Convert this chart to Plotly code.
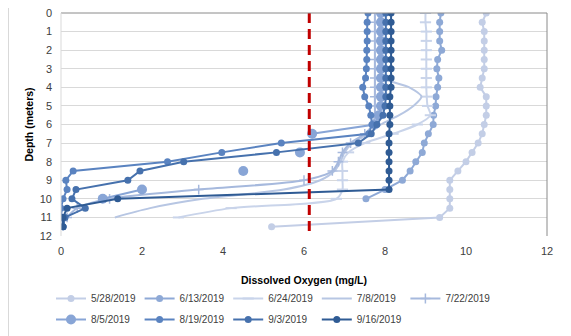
import plotly.graph_objects as go

# ---- data (depth in meters, dissolved oxygen in mg/L) ----
depth_5_28 = [0, 0.5, 1, 1.5, 2, 2.5, 3, 3.5, 4, 4.5, 5, 5.5, 6, 6.5, 7, 7.5, 8, 8.5, 9, 9.5, 10, 10.5, 11, 11.5]
do_5_28 = [10.5, 10.4, 10.45, 10.45, 10.45, 10.45, 10.45, 10.4, 10.35, 10.5, 10.5, 10.5, 10.45, 10.4, 10.3, 10.15, 10.0, 9.8, 9.6, 9.6, 9.6, 9.6, 9.35, 5.2]

depth_6_13 = [0, 0.5, 1, 1.5, 2, 2.5, 3, 3.5, 4, 4.5, 5, 5.5, 6, 6.5, 7, 7.5, 8, 8.5, 9, 9.5, 10]
do_6_13 = [9.38, 9.35, 9.35, 9.35, 9.4, 9.3, 9.28, 9.33, 9.3, 9.26, 9.25, 9.2, 9.19, 9.07, 8.97, 8.92, 8.76, 8.62, 8.43, 8.0, 7.53]

depth_6_24 = [0, 0.5, 1, 1.5, 2, 2.5, 3, 3.5, 4, 4.5, 5, 5.5, 6, 6.5, 7, 7.5, 8, 8.5, 9, 9.5, 10, 10.5, 11]
do_6_24 = [9.0, 9.0, 9.02, 9.02, 9.02, 9.02, 9.02, 9.02, 9.02, 9.03, 9.05, 9.12, 8.8, 8.2, 7.5, 7.1, 6.95, 6.95, 6.95, 6.95, 6.8, 4.2, 2.9]

depth_7_8 = [0, 0.5, 1, 1.5, 2, 2.5, 3, 3.5, 4, 4.5, 5, 5.5, 6, 6.5, 7, 7.5, 8, 8.5, 9, 9.5, 10, 10.5, 11]
do_7_8 = [7.85, 7.85, 7.85, 7.85, 7.85, 7.85, 7.85, 7.95, 8.6, 8.9, 8.7, 8.35, 7.9, 7.6, 7.2, 7.0, 6.9, 6.75, 6.4, 5.5, 3.5, 2.2, 1.33]

depth_7_22 = [0, 0.5, 1, 1.5, 2, 2.5, 3, 3.5, 4, 4.5, 5, 5.5, 6, 6.5, 7, 7.5, 8, 8.5, 9, 9.5, 10, 10.5, 11]
do_7_22 = [7.75, 7.75, 7.75, 7.75, 7.75, 7.75, 7.75, 7.75, 7.75, 7.75, 7.75, 7.75, 7.7, 7.5, 7.15, 6.95, 6.85, 6.7, 6.0, 3.4, 1.2, 0.4, 0.15]

depth_8_5 = [0, 0.5, 1, 1.5, 2, 2.5, 3, 3.5, 4, 4.5, 5, 5.5, 6, 6.5, 7, 7.5, 8, 8.5, 9, 9.5, 10]
do_8_5 = [7.9, 7.9, 7.9, 7.9, 7.9, 7.9, 7.9, 7.9, 7.9, 7.9, 7.9, 7.85, 7.75, 6.2, None, 5.9, None, 4.5, None, 2.0, 1.03]

depth_8_19 = [0, 0.5, 1, 1.5, 2, 2.5, 3, 3.5, 4, 4.5, 5, 5.5, 6, 6.5, 7, 7.5, 8, 8.5, 9, 9.5, 10, 10.5, 11, 11.5]
do_8_19 = [7.58, 7.56, 7.56, 7.56, 7.55, 7.55, 7.54, 7.52, 7.45, 7.5, 7.6, 7.65, 7.68, 7.6, 5.44, 3.97, 2.63, 0.3, 0.12, 0.15, 0.05, 0.0, 0.02, 0.05]

depth_9_3 = [0, 0.5, 1, 1.5, 2, 2.5, 3, 3.5, 4, 4.5, 5, 5.5, 6, 6.5, 7, 7.5, 8, 8.5, 9, 9.5, 10, 10.5, 11, 11.5]
do_9_3 = [8.02, 8.02, 8.02, 8.02, 8.02, 8.02, 8.02, 8.02, 8.02, 8.02, 8.0, 7.95, 7.8, 7.66, 7.34, 5.32, 3.03, 1.95, 1.65, 0.37, 0.27, 0.6, 0.1, 0.05]

depth_9_16 = [0, 0.5, 1, 1.5, 2, 2.5, 3, 3.5, 4, 4.5, 5, 5.5, 6, 6.5, 7, 7.5, 8, 8.5, 9, 9.5, 10, 10.5, 11, 11.5]
do_9_16 = [8.15, 8.15, 8.15, 8.15, 8.15, 8.15, 8.15, 8.15, 8.15, 8.12, 8.12, 8.12, 8.12, 8.1, 8.1, 8.1, 8.1, 8.1, 8.1, 8.1, 1.4, 0.15, 0.05, 0.05]

threshold_do = [6.13, 6.13]
threshold_depth = [0, 12]

x_ticks = [0, 2, 4, 6, 8, 10, 12]
y_ticks = [0, 1, 2, 3, 4, 5, 6, 7, 8, 9, 10, 11, 12]

FONT = "Liberation Sans, Arial, sans-serif"

series = [
    ("5/28/2019", do_5_28, depth_5_28, "#c3cee6", dict(symbol="circle", size=7), "linear", "legend"),
    ("6/13/2019", do_6_13, depth_6_13, "#8ea9d6", dict(symbol="circle", size=7), "linear", "legend"),
    ("6/24/2019", do_6_24, depth_6_24, "#c9d4ea", dict(symbol="line-ew", size=8, line=dict(width=2, color="#c9d4ea")), "spline", "legend"),
    ("7/8/2019", do_7_8, depth_7_8, "#b7c6e3", None, "spline", "legend"),
    ("7/22/2019", do_7_22, depth_7_22, "#a6b9dd", dict(symbol="cross-thin", size=7, line=dict(width=1.5, color="#a6b9dd")), "spline", "legend"),
    ("8/5/2019", do_8_5, depth_8_5, "#88a5d6", dict(symbol="circle", size=10), "linear", "legend2"),
    ("8/19/2019", do_8_19, depth_8_19, "#5a83c0", dict(symbol="circle", size=7), "linear", "legend2"),
    ("9/3/2019", do_9_3, depth_9_3, "#4671ad", dict(symbol="circle", size=7), "linear", "legend2"),
    ("9/16/2019", do_9_16, depth_9_16, "#2f5b94", dict(symbol="circle", size=7), "linear", "legend2"),
]

fig = go.Figure()
for name, xs, ys, color, marker, shape, leg in series:
    kw = {}
    if marker is None:
        mode = "lines"
    else:
        mode = "lines+markers"
        m = dict(marker)
        m.setdefault("color", color)
        kw["marker"] = m
    fig.add_trace(go.Scatter(
        x=xs, y=ys, name=name, mode=mode, legend=leg,
        line=dict(color=color, width=2, shape=shape, smoothing=0.8),
        connectgaps=False, **kw))

fig.add_trace(go.Scatter(
    x=threshold_do, y=threshold_depth, mode="lines", showlegend=False,
    line=dict(color="#c00000", width=3, dash="10px,6px"), hoverinfo="skip"))

# page body adds an 8px offset; target screen geometry of the plot area
OFF = 8
PL, PR, PT, PB = 61, 547, 13, 236   # plot area in screen px
W, H = 571 - OFF, 336 - OFF
L, T = PL - OFF, PT - OFF
R = W - (PR - OFF)
B = H - (PB - OFF)
pw, ph = PR - PL, PB - PT

def px_x(p):
    return (p - PL) / pw

def px_y(p):
    return (PB - p) / ph

shapes = [
    dict(type="line", xref="paper", yref="paper", x0=0, x1=1, y0=1, y1=1,
         line=dict(color="#8a8a8a", width=1)),
    dict(type="line", xref="paper", yref="paper", x0=1, x1=1, y0=0, y1=1,
         line=dict(color="#8a8a8a", width=1)),
    dict(type="line", xref="paper", yref="paper", x0=0, x1=0, y0=0, y1=1,
         line=dict(color="#d9d9d9", width=1)),
    dict(type="line", xref="paper", yref="paper", x0=px_x(8.5), x1=px_x(8.5), y0=px_y(336), y1=px_y(8),
         line=dict(color="#d9d9d9", width=1)),
    dict(type="line", xref="paper", yref="paper", x0=px_x(568), x1=px_x(568), y0=px_y(336), y1=px_y(8),
         line=dict(color="#d9d9d9", width=1)),
]

legend_common = dict(orientation="h", xanchor="left", yanchor="top",
                     entrywidth=43.6, entrywidthmode="pixels",
                     font=dict(family=FONT, size=10, color="#404040"),
                     bgcolor="rgba(0,0,0,0)", traceorder="normal")

fig.update_layout(
    width=W, height=H,
    margin=dict(l=L, r=R, t=T, b=B, pad=0, autoexpand=False),
    paper_bgcolor="white", plot_bgcolor="white",
    font=dict(family=FONT, size=11, color="#404040"),
    showlegend=True,
    shapes=shapes,
    xaxis=dict(range=[0, 12], tickvals=x_ticks, showgrid=False, zeroline=False,
               showline=False, ticks="", ticklabelstandoff=7, ticklabeloverflow="allow",
               tickfont=dict(family=FONT, size=11, color="#404040")),
    yaxis=dict(range=[12, 0], tickvals=y_ticks, showgrid=True, gridcolor="#d9d9d9",
               gridwidth=1, zeroline=False, showline=False, ticks="",
               ticklabelstandoff=8, ticklabeloverflow="allow",
               tickfont=dict(family=FONT, size=11, color="#404040")),
    legend=dict(x=px_x(51), y=px_y(284), **legend_common),
    legend2=dict(x=px_x(51), y=px_y(305), **legend_common),
    annotations=[
        dict(text="<b>Dissolved Oxygen (mg/L)</b>", xref="paper", yref="paper",
             x=0.5, y=px_y(280), xanchor="center", yanchor="middle", showarrow=False,
             font=dict(family=FONT, size=10.5, color="#000000")),
        dict(text="<b>Depth (meters)</b>", xref="paper", yref="paper",
             x=px_x(28), y=0.5, xanchor="center", yanchor="middle", showarrow=False,
             textangle=-90, font=dict(family=FONT, size=10.5, color="#000000")),
    ],
)

fig.write_html("out.html")
